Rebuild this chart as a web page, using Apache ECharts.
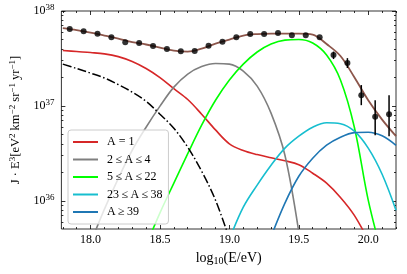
<!DOCTYPE html>
<html><head><meta charset="utf-8">
<script src="https://cdn.jsdelivr.net/npm/echarts@6/dist/echarts.min.js"></script>
<style>html,body{margin:0;padding:0;background:#fff}#c{width:407px;height:274px}</style>
</head><body><div id="c"></div>
<script>
// ---- data ----
const obsLogE = [17.85,17.95,18.05,18.15,18.25,18.35,18.45,18.55,18.65,18.75,18.85,18.95,19.05,19.15,19.25,19.35,19.45,19.55,19.65,19.75,19.85,19.95,20.05,20.15];
const obsFlux = [6.46e37,6.11e37,5.77e37,5.28e37,4.68e37,4.60e37,4.28e37,3.97e37,3.76e37,3.79e37,4.31e37,4.75e37,5.28e37,5.73e37,5.73e37,5.86e37,5.55e37,5.55e37,5.28e37,3.44e37,2.83e37,1.30e37,7.69e36,8.2e36];
const errLogE = [19.75,19.85,19.95,20.05,20.15];
const errUpper = [3.74e37,3.19e37,1.66e37,1.15e37,1.30e37];
const errLower = [3.12e37,2.51e37,1.02e37,4.93e36,4.81e36];

const modelLogE = [17.8,17.9,18.0,18.1,18.2,18.3,18.4,18.5,18.6,18.7,18.8,18.9,19.0,19.1,19.2,19.3,19.4,19.5,19.6,19.7,19.8,19.9,20.0,20.1,20.2];
const totalFlux = [6.62e37,6.30e37,5.93e37,5.52e37,5.13e37,4.71e37,4.44e37,4.12e37,3.83e37,3.74e37,4.02e37,4.54e37,5.01e37,5.52e37,5.72e37,5.79e37,5.79e37,5.79e37,5.65e37,4.49e37,3.36e37,2.01e37,1.15e37,7.18e36,4.81e36];
const fluxA1 = [3.84e37,3.74e37,3.65e37,3.54e37,3.31e37,2.94e37,2.48e37,1.99e37,1.52e37,1.17e37,8.2e36,5.6e36,4.0e36,3.40e36,3.08e36,2.85e36,2.65e36,2.41e36,1.96e36,1.54e36,1.09e36,7.06e35,3.86e35,null,null];
const fluxA2_4 = [null,null,3.6e35,8.2e35,1.73e36,3.42e36,5.98e36,9.96e36,1.58e37,2.17e37,2.60e37,2.80e37,2.76e37,2.33e37,1.62e37,8.41e36,3.03e36,4.7e35,null,null,null,null,null,null,null];
const fluxA5_22 = [null,null,null,null,null,null,3.4e35,7.5e35,1.54e36,3.15e36,6.28e36,1.15e37,1.88e37,2.76e37,3.70e37,4.49e37,4.94e37,5.01e37,4.60e37,3.44e37,1.88e37,5.98e36,1.02e36,2.7e35,null];
const fluxA23_38 = [null,null,null,null,null,null,null,null,null,null,null,null,3.95e35,8.6e35,1.47e36,2.38e36,3.60e36,4.81e36,5.98e36,6.67e36,6.51e36,5.43e36,3.60e36,1.91e36,7.98e35];
const fluxA39 = [null,null,null,null,null,null,null,null,null,null,null,null,null,null,null,4.2e35,9.5e35,1.82e36,2.82e36,3.87e36,4.69e36,5.24e36,5.30e36,4.86e36,3.86e36];
const fluxDashDot = [2.76e37,2.48e37,2.22e37,1.97e37,1.68e37,1.40e37,1.12e37,8.2e36,5.83e36,3.68e36,2.06e36,1.02e36,4.0e35,null,null,null,null,null,null,null,null,null,null,null,null];

const legendNames = ['A = 1','2\u2009≤\u2009A\u2009≤\u20094','5\u2009≤\u2009A\u2009≤\u200922','23\u2009≤\u2009A\u2009≤\u200938','A\u2009≥\u200939'];
const xMajorTicks = [18.0,18.5,19.0,19.5,20.0];
const xMinorTicks = [17.8,17.9,18.1,18.2,18.3,18.4,18.6,18.7,18.8,18.9,19.1,19.2,19.3,19.4,19.6,19.7,19.8,19.9,20.1,20.2];
const yMajorTicks = [1e36,1e37,1e38];
const yMinorTicks = [6e35,7e35,8e35,9e35,2e36,3e36,4e36,5e36,6e36,7e36,8e36,9e36,2e37,3e37,4e37,5e37,6e37,7e37,8e37,9e37];
const xMin = 17.79, xMax = 20.2;
const yMin = 5.07e35, yMax = 1e38;

// ---- chart ----
const FONT = 'Liberation Serif';
const zip = (xs, ys) => xs.map((x, i) => [x, ys[i]]);
const chart = echarts.init(document.getElementById('c'), null, {renderer: 'canvas'});

function xAxisDef(pos, ticks, len, labels) {
  return {
    type: 'value', position: pos, min: xMin, max: xMax, gridIndex: 0,
    axisLine: {show: false}, splitLine: {show: false},
    axisTick: {show: true, inside: true, length: len, customValues: ticks, lineStyle: {color: '#000', width: 0.8}},
    axisLabel: labels ? {show: true, customValues: xMajorTicks, margin: 5, color: '#000', fontFamily: FONT, fontSize: 12,
      formatter: v => v.toFixed(1)} : {show: false},
  };
}
function yAxisDef(pos, ticks, len, labels) {
  return {
    type: 'log', logBase: 10, position: pos, min: yMin, max: yMax, gridIndex: 0,
    axisLine: {show: false}, splitLine: {show: false},
    axisTick: {show: true, inside: true, length: len, customValues: ticks, lineStyle: {color: '#000', width: 0.8}},
    axisLabel: labels ? {show: true, customValues: yMajorTicks, margin: 7, color: '#000',
      formatter: v => '{b|10}{s|' + Math.round(Math.log10(v)) + '}',
      rich: {b: {fontFamily: FONT, fontSize: 12, color: '#000'}, s: {fontFamily: FONT, fontSize: 9, color: '#000', padding: [0, 0, 7, 0]}}
    } : {show: false},
  };
}

const xAxes = [xAxisDef('bottom', xMajorTicks, 4, true), xAxisDef('bottom', xMinorTicks, 2, false),
               xAxisDef('top', xMajorTicks, 4, false), xAxisDef('top', xMinorTicks, 2, false)];
xAxes[0].name = 'log{sub|10}(E/eV)';
xAxes[0].nameLocation = 'middle';
xAxes[0].nameGap = 19;
xAxes[0].nameTextStyle = {fontFamily: FONT, fontSize: 14, color: '#000',
  rich: {sub: {fontFamily: FONT, fontSize: 10, color: '#000', padding: [6, 0, 0, 0]}}};

const yAxes = [yAxisDef('left', yMajorTicks, 4, true), yAxisDef('left', yMinorTicks, 2, false),
               yAxisDef('right', yMajorTicks, 4, false), yAxisDef('right', yMinorTicks, 2, false)];
yAxes[0].name = 'J · E{s|3}[eV{s|2} km{s|−2} sr{s|−1} yr{s|−1}]';
yAxes[0].nameLocation = 'middle';
yAxes[0].nameRotate = 90;
yAxes[0].nameGap = 37;
yAxes[0].nameTextStyle = {fontFamily: FONT, fontSize: 12.5, color: '#000',
  rich: {s: {fontFamily: FONT, fontSize: 9, color: '#000', padding: [0, 0, 7, 0]}}};

function lineSeries(name, ys, color, extra) {
  return Object.assign({
    name: name, type: 'line', data: zip(modelLogE, ys), showSymbol: false, symbol: 'none',
    smooth: 0.35, connectNulls: false, clip: true,
    lineStyle: {color: color, width: 1.6}, itemStyle: {color: color}, z: 2, silent: true,
  }, extra || {});
}

const series = [
  lineSeries(legendNames[0], fluxA1, '#d62728'),
  lineSeries(legendNames[1], fluxA2_4, '#7f7f7f'),
  lineSeries(legendNames[2], fluxA5_22, '#00ff00'),
  lineSeries(legendNames[3], fluxA23_38, '#17becf'),
  lineSeries(legendNames[4], fluxA39, '#1f77b4'),
  lineSeries('dashdot', fluxDashDot, '#000', {lineStyle: {color: '#000', width: 1.5, type: [9, 2.5, 1.5, 2.5]}}),
  lineSeries('total', totalFlux, '#8c564b', {lineStyle: {color: '#8c564b', width: 1.8}, z: 3}),
  {
    name: 'err', type: 'custom', z: 4, silent: true,
    data: errLogE.map((e, i) => [e, errUpper[i], errLower[i]]),
    renderItem: (params, api) => {
      const a = api.coord([api.value(0), api.value(1)]);
      const b = api.coord([api.value(0), api.value(2)]);
      return {type: 'line', shape: {x1: a[0], y1: a[1], x2: b[0], y2: b[1]}, style: {stroke: '#000', lineWidth: 1.5}};
    }
  },
  {
    name: 'data', type: 'scatter', data: zip(obsLogE, obsFlux), symbol: 'circle', symbolSize: 6,
    itemStyle: {color: '#000'}, z: 5, silent: true,
  },
];

chart.setOption({
  animation: false,
  backgroundColor: '#fff',
  grid: {left: 61, right: 11, top: 11, bottom: 45, show: true, borderColor: '#000', borderWidth: 0.8, backgroundColor: 'transparent'},
  xAxis: xAxes,
  yAxis: yAxes,
  legend: {
    data: legendNames, orient: 'vertical', left: 68, top: 130,
    icon: 'rect', itemWidth: 25, itemHeight: 2, itemGap: 3.5,
    padding: [5, 6, 5, 5], borderColor: '#cccccc', borderWidth: 1, borderRadius: 3,
    backgroundColor: 'rgba(255,255,255,0.8)',
    textStyle: {fontFamily: FONT, fontSize: 12, color: '#000', lineHeight: 14, padding: [0, 0, 0, 4]},
    selectedMode: false,
  },
  series: series,
});
</script>
</body></html>
